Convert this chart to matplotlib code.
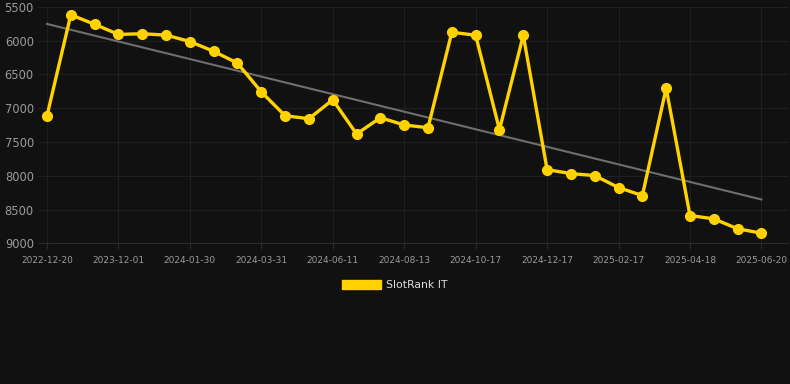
import matplotlib
matplotlib.use("Agg")
import matplotlib.pyplot as plt
import numpy as np
from matplotlib.patches import Patch

# Data
ranks = [7115, 5620, 5760, 5910, 5900, 5920, 6015, 6160, 6335, 6760,
         7112, 7156, 6876, 7382, 7141, 7249, 7289, 5878, 5922, 7319,
         5922, 7909, 7967, 7997, 8174, 8292, 6704, 8587, 8636, 8783, 8848]
tick_labels = ["2022-12-20", "2023-12-01", "2024-01-30", "2024-03-31", "2024-06-11",
               "2024-08-13", "2024-10-17", "2024-12-17", "2025-02-17", "2025-04-18",
               "2025-06-20"]
tick_step = 3
trend_start = 5755
trend_end = 8350
series_name = "SlotRank IT"
y_ticks = [5500, 6000, 6500, 7000, 7500, 8000, 8500, 9000]

bg = "#111111"
gold = "#FFD200"

fig = plt.figure(figsize=(7.9, 3.84), dpi=100, facecolor=bg)
ax = fig.add_axes([0.048, 0.366, 0.949, 0.6166], facecolor=bg)

x = np.arange(len(ranks))
ax.plot([x[0], x[-1]], [trend_start, trend_end], color="#6e6e6e", lw=1.5, zorder=2)
ax.plot(x, ranks, color=gold, lw=2.4, marker="o", markersize=7, zorder=3)

ax.set_ylim(9000, 5500)
ax.set_xlim(-0.38, 31.1)
ax.set_yticks(y_ticks)
ax.set_yticklabels([str(v) for v in y_ticks])
tick_pos = x[::tick_step]
ax.set_xticks(tick_pos)
ax.set_xticklabels(tick_labels)

ax.grid(True, color="#1f1f1f", lw=0.8)
ax.set_axisbelow(True)
for s in ax.spines.values():
    s.set_visible(False)
ax.spines["bottom"].set_visible(True)
ax.spines["bottom"].set_color("#2a2a2a")
ax.tick_params(axis="y", length=0, labelsize=8.3, labelcolor="#9a9a9a", pad=3)
ax.tick_params(axis="x", length=4, color="#2a2a2a", labelsize=6.5, labelcolor="#9a9a9a", pad=5)

leg = fig.legend(handles=[Patch(facecolor=gold, edgecolor=gold)], labels=[series_name],
                 loc="center", bbox_to_anchor=(0.5, 0.258), frameon=False,
                 handlelength=3.6, handleheight=0.9, handletextpad=0.5, fontsize=7.8)
for t in leg.get_texts():
    t.set_color("#dddddd")

fig.savefig("out.png", dpi=100, facecolor=bg)
